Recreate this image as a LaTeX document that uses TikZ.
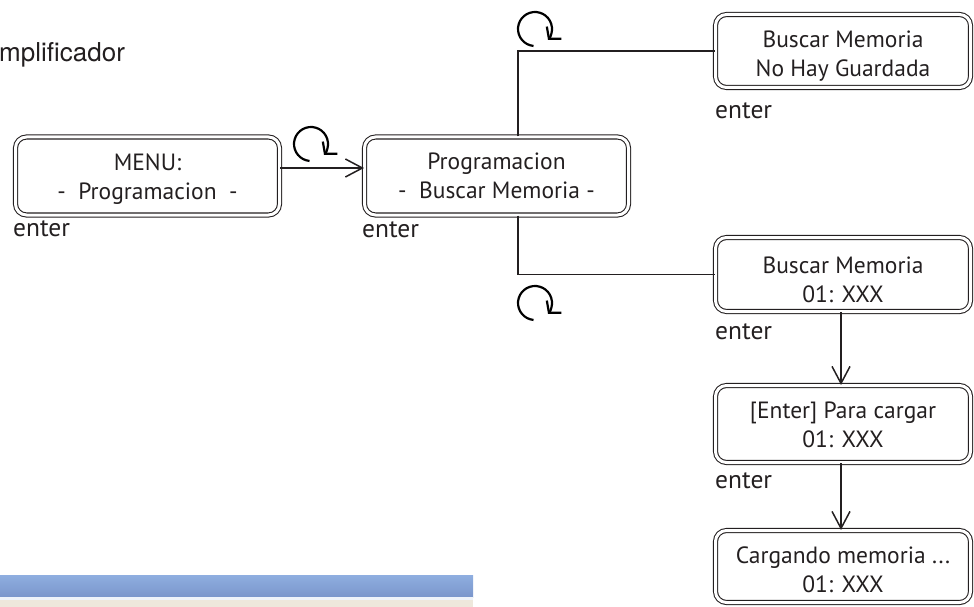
\documentclass[tikz,border=0pt]{standalone}
\usepackage{fontspec}
\setmainfont{PT Sans}
\newfontfamily\titlefont{TeX Gyre Heros}
\usetikzlibrary{arrows.meta}

\definecolor{ink}{HTML}{231F20}
\definecolor{barlight}{HTML}{8FAEE0}
\definecolor{bardark}{HTML}{7A96CB}
\definecolor{barbase}{HTML}{EEE8DC}

% two display lines; #1 is the strut height that sets where the pair sits
\newcommand\lcdlines[3]{\rule{0pt}{#1}#2\\#3\rule[-8pt]{0pt}{8pt}}

\tikzset{
  lcd/.style={draw=ink, text=ink, double, double distance=3pt, line width=1.05pt,
    rounded corners=11pt, align=center, inner sep=0pt,
    font=\fontsize{23.5}{29}\selectfont},
  keylabel/.style={anchor=base west, inner sep=0pt, text=ink,
    font=\fontsize{25.5}{28}\selectfont},
  flow/.style={line width=1.5pt, draw=ink},
  barb/.style={-{Straight Barb[length=17pt,width=18pt]}},
  turn/.style={line width=2.2pt, draw=black, -{Straight Barb[length=8pt,width=19pt]}},
  turnarrow/.pic={\draw[turn, y=1pt] (265:17) arc[start angle=265, end angle=-40, radius=17];}
}

\begin{document}
\begin{tikzpicture}[x=1pt, y=-1pt]
\useasboundingbox (0,0) rectangle (974,607);

% heading, cut at the left edge
\node[anchor=base west, inner sep=0pt, text=ink, font=\titlefont\fontsize{26}{30}\selectfont]
  (title) at (-1,62) {mplificador};

% display states
\node[lcd, minimum width=264pt, minimum height=78pt] (menu) at (147.5,176)
  {\lcdlines{25pt}{MENU:}{-\ \ Programacion\ \ -}};
\node[lcd, minimum width=264pt, minimum height=78pt] (prog) at (496.5,176)
  {\lcdlines{23pt}{Programacion}{-\ \ Buscar Memoria -}};
\node[lcd, minimum width=255pt, minimum height=73pt] (empty) at (843,51)
  {\lcdlines{31pt}{Buscar Memoria}{No Hay Guardada}};
\node[lcd, minimum width=255pt, minimum height=74pt] (mem) at (843,274.5)
  {\lcdlines{35pt}{Buscar Memoria}{01: XXX}};
\node[lcd, minimum width=255pt, minimum height=77pt] (confirm) at (843,424)
  {\lcdlines{25pt}{[Enter] Para cargar}{01: XXX}};
\node[lcd, minimum width=255pt, minimum height=72pt] (load) at (843,566.5)
  {\lcdlines{31pt}{Cargando memoria ...}{01: XXX}};

% key labels
\node[keylabel] (k1) at (13,236) {enter};
\node[keylabel] (k2) at (362,237) {enter};
\node[keylabel] (k3) at (715,119) {enter};
\node[keylabel] (k4) at (715,339) {enter};
\node[keylabel] (k5) at (715,488) {enter};

% transitions
\draw[flow, barb] ([yshift=8pt]menu.east) -- ([yshift=8pt]prog.west);
\draw[flow] ([xshift=21.5pt]prog.north) |- (empty.west);
\draw[flow] ([xshift=21.5pt]prog.south) |- (mem.west);
\draw[flow, barb] ([xshift=-2pt]mem.south) -- ([xshift=-2pt]confirm.north);
\draw[flow, barb] ([xshift=-2pt]confirm.south) -- ([xshift=-2pt]load.north);

% rotary knob marks
\pic at (311,144) {turnarrow};
\pic at (535,29) {turnarrow};
\pic at (535,303) {turnarrow};

% window strip along the bottom
\shade[top color=barlight, bottom color=bardark] (0,575) rectangle (473,597);
\fill[white!85!barlight] (0,597) rectangle (473,599.5);
\fill[barbase] (0,599.5) rectangle (473,607);
\end{tikzpicture}
\end{document}
